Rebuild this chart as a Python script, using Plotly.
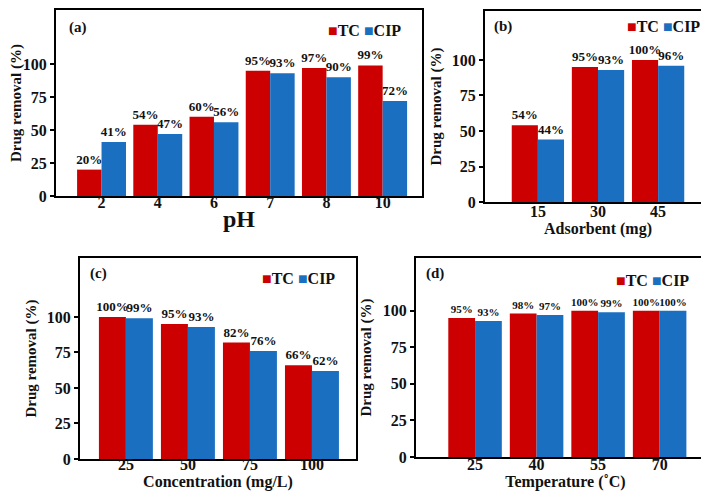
import plotly.graph_objects as go

# ---------------- data ----------------
ph_cats = ["2", "4", "6", "7", "8", "10"]
ph_tc = [20, 54, 60, 95, 97, 99]
ph_cip = [41, 47, 56, 93, 90, 72]

ads_cats = ["15", "30", "45"]
ads_tc = [54, 95, 100]
ads_cip = [44, 93, 96]

conc_cats = ["25", "50", "75", "100"]
conc_tc = [100, 95, 82, 66]
conc_cip = [99, 93, 76, 62]

temp_cats = ["25", "40", "55", "70"]
temp_tc = [95, 98, 100, 100]
temp_cip = [93, 97, 99, 100]

y_ticks = [0, 25, 50, 75, 100]

RED = "#cc0000"
BLUE = "#1a6fc0"
FONT = "Liberation Serif"
TXT = "#111111"

W, H = 709, 491

def px_x(p):
    return p / W

def px_y(p):
    return 1 - p / H

panels = [
    dict(cats=ph_cats, tc=ph_tc, cip=ph_cip, xd=(48, 414), yd=(2, 188),
         xr=[-0.81, 5.70], yr=[0, 141], title="pH", tsize=24, lsize=13,
         tls=-9, ystand=11, tag="(a)", tagpos=(70, 20), leg=(356, 23)),
    dict(cats=ads_cats, tc=ads_tc, cip=ads_cip, xd=(477, 703), yd=(3, 194),
         xr=[-0.88, 2.88], yr=[0, 134.5], title="Adsorbent (mg)", tsize=16, lsize=13,
         tls=-6, ystand=7, tag="(b)", tagpos=(495, 18), leg=(655, 18)),
    dict(cats=conc_cats, tc=conc_tc, cip=conc_cip, xd=(72, 348), yd=(250, 451),
         xr=[-0.74, 3.71], yr=[0, 141.5], title="Concentration (mg/L)", tsize=16, lsize=13,
         tls=-10, ystand=7, tag="(c)", tagpos=(90, 265), leg=(290, 270)),
    dict(cats=temp_cats, tc=temp_tc, cip=temp_cip, xd=(408, 707), yd=(250, 449),
         xr=[-0.96, 3.90], yr=[0, 136], title="Temperature (˚C)", tsize=16, lsize=11,
         tls=-8, ystand=8, tag="(d)", tagpos=(427, 265), leg=(644, 272)),
]

fig = go.Figure()
annotations = []
layout = {}

for i, p in enumerate(panels):
    n = "" if i == 0 else str(i + 1)
    xa, ya = "x" + n, "y" + n
    for name, vals, col in (("TC", p["tc"], RED), ("CIP", p["cip"], BLUE)):
        fig.add_trace(go.Bar(
            x=p["cats"], y=vals, name=name, xaxis=xa, yaxis=ya,
            marker=dict(color=col, line=dict(width=0)),
            text=[f"{v}%" for v in vals], textposition="outside",
            textfont=dict(family=FONT, size=p["lsize"], color=TXT, weight="bold"),
            constraintext="none", cliponaxis=False, showlegend=False,
            hoverinfo="skip",
        ))
    layout["xaxis" + n] = dict(
        domain=[px_x(p["xd"][0]), px_x(p["xd"][1])], anchor=ya,
        range=p["xr"], type="category",
        showline=True, linewidth=2, linecolor="black", mirror=True,
        ticks="", showgrid=False, zeroline=False,
        ticklabelstandoff=p["tls"],
        tickfont=dict(family=FONT, size=16, color=TXT, weight="bold"),
        title=dict(text=p["title"], standoff=0,
                   font=dict(family=FONT, size=p["tsize"], color=TXT, weight="bold")),
        automargin=False, fixedrange=True,
    )
    layout["yaxis" + n] = dict(
        domain=[px_y(p["yd"][1]), px_y(p["yd"][0])], anchor=xa,
        range=p["yr"], tickvals=y_ticks,
        showline=True, linewidth=2, linecolor="black", mirror=True,
        ticks="outside", ticklen=4, tickwidth=1.5, tickcolor="black",
        showgrid=False, zeroline=False,
        tickfont=dict(family=FONT, size=16, color=TXT, weight="bold"),
        title=dict(text="Drug removal (%)", standoff=p["ystand"],
                   font=dict(family=FONT, size=15, color=TXT, weight="bold")),
        automargin=False, fixedrange=True,
    )
    annotations.append(dict(
        text=p["tag"], xref="paper", yref="paper",
        x=px_x(p["tagpos"][0]), y=px_y(p["tagpos"][1]),
        xanchor="center", yanchor="middle", showarrow=False,
        font=dict(family=FONT, size=15, color=TXT, weight="bold"),
    ))
    annotations.append(dict(
        text=(f"<span style='color:{RED}'>■</span>TC "
              f"<span style='color:{BLUE}'>■</span>CIP"),
        xref="paper", yref="paper",
        x=px_x(p["leg"][0]), y=px_y(p["leg"][1]),
        xanchor="center", yanchor="middle", showarrow=False,
        font=dict(family=FONT, size=16, color=TXT, weight="bold"),
    ))

fig.update_layout(
    width=W, height=H,
    margin=dict(l=0, r=0, t=0, b=0),
    paper_bgcolor="white", plot_bgcolor="white",
    barmode="group", bargap=0.13, bargroupgap=0,
    showlegend=False,
    annotations=annotations,
    **layout,
)

fig.write_html("out.html", config={"displayModeBar": False})
